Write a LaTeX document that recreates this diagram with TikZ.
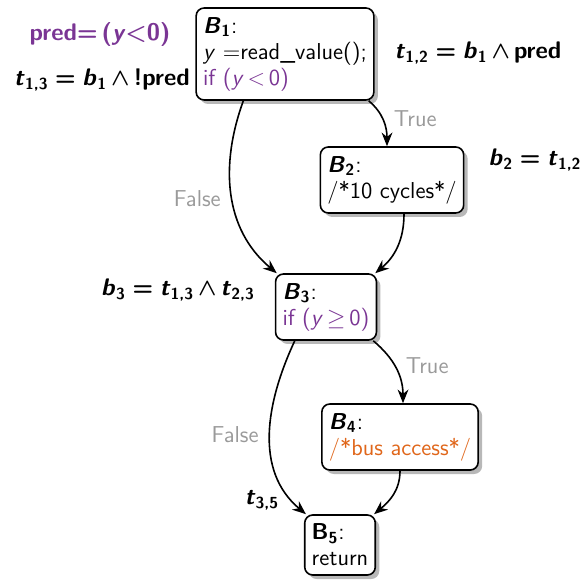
\documentclass[tikz,border=0pt]{standalone}
\usepackage{fontspec}
\renewcommand{\familydefault}{\sfdefault}
\usetikzlibrary{arrows.meta,positioning,shadows}
\definecolor{plum}{HTML}{7A3594}
\definecolor{rust}{HTML}{E0661A}
\definecolor{note}{HTML}{9A9A9A}
\newcommand{\vb}[2]{\textit{#1}\textsubscript{#2}}
\newcommand{\andop}{\,{\boldmath$\wedge$}\,}
\newcommand{\eqop}{\;=\;}
\tikzset{
  block/.style={draw,thick,rounded corners=4pt,fill=white,align=left,
    inner sep=3.5pt,font=\fontsize{11.5}{13}\selectfont,
    drop shadow={shadow xshift=2pt,shadow yshift=-2pt,fill=black!28,opacity=1}},
  flow/.style={-{Stealth[length=2.4mm,width=1.9mm]},thick},
  branch/.style={font=\fontsize{11.5}{13}\selectfont,text=note},
  cond/.style={font=\fontsize{12}{14}\selectfont\bfseries}
}
\begin{document}
\begin{tikzpicture}[x=0.5pt,y=-0.5pt]
  \useasboundingbox (0,0) rectangle (579,581);
  % blocks
  \node[block,minimum height=46pt] (B1) at (285,54)
    {\textbf{\vb{B}{1}}:\\\textit{y} =read\_value();\\\textcolor{plum}{if (\textit{y}\,<\,0)}};
  \node[block,minimum height=33pt] (B2) at (392,180)
    {\textbf{\vb{B}{2}}:\\/*10 cycles*/};
  \node[block,minimum height=33pt] (B3) at (326,307)
    {\textbf{\vb{B}{3}}:\\\textcolor{plum}{if (\textit{y}\,$\geq$\,0)}};
  \node[block,minimum height=33pt] (B4) at (400,437)
    {\textbf{\vb{B}{4}}:\\\textcolor{rust}{/*bus access*/}};
  \node[block,minimum height=30pt] (B5) at (340,545)
    {\textbf{B\textsubscript{5}}:\\return};
  % conditions
  \node[cond,text=plum] (pred) at (100,35) {pred=\,(\textit{y}<0)};
  \node[cond] (t13) at (102,80) {\vb{t}{1,3}\eqop\vb{b}{1}\andop!pred};
  \node[cond] (t12) at (478,53) {\vb{t}{1,2}\eqop\vb{b}{1}\andop pred};
  \node[cond] (b2) at (535,160) {\vb{b}{2}\eqop\vb{t}{1,2}};
  \node[cond] (b3) at (178,290) {\vb{b}{3}\eqop\vb{t}{1,3}\andop\vb{t}{2,3}};
  \node[cond] (t35) at (262,500) {\vb{t}{3,5}};
  % edges
  \draw[flow] ([xshift=-3pt]B1.south east) to[out=-40,in=90]
    node[branch,pos=0.45,right=2pt] {True} ([xshift=-2.5pt]B2.north);
  \draw[flow] ([xshift=24pt]B1.south west) to[out=-110,in=140]
    node[branch,pos=0.52,left=2pt] {False} ([xshift=1pt]B3.north west);
  \draw[flow] ([xshift=6pt]B2.south) to[out=-90,in=40] ([xshift=-1pt]B3.north east);
  \draw[flow] ([xshift=-2pt]B3.south east) to[out=-40,in=90]
    node[branch,pos=0.45,right=2pt] {True} ([xshift=1.5pt]B4.north);
  \draw[flow] ([xshift=10pt]B3.south west) to[out=-115,in=140]
    node[branch,pos=0.5,left=2pt] {False} ([xshift=1pt]B5.north west);
  \draw[flow] ([xshift=0pt]B4.south) to[out=-90,in=40] ([xshift=-1pt]B5.north east);
\end{tikzpicture}
\end{document}
